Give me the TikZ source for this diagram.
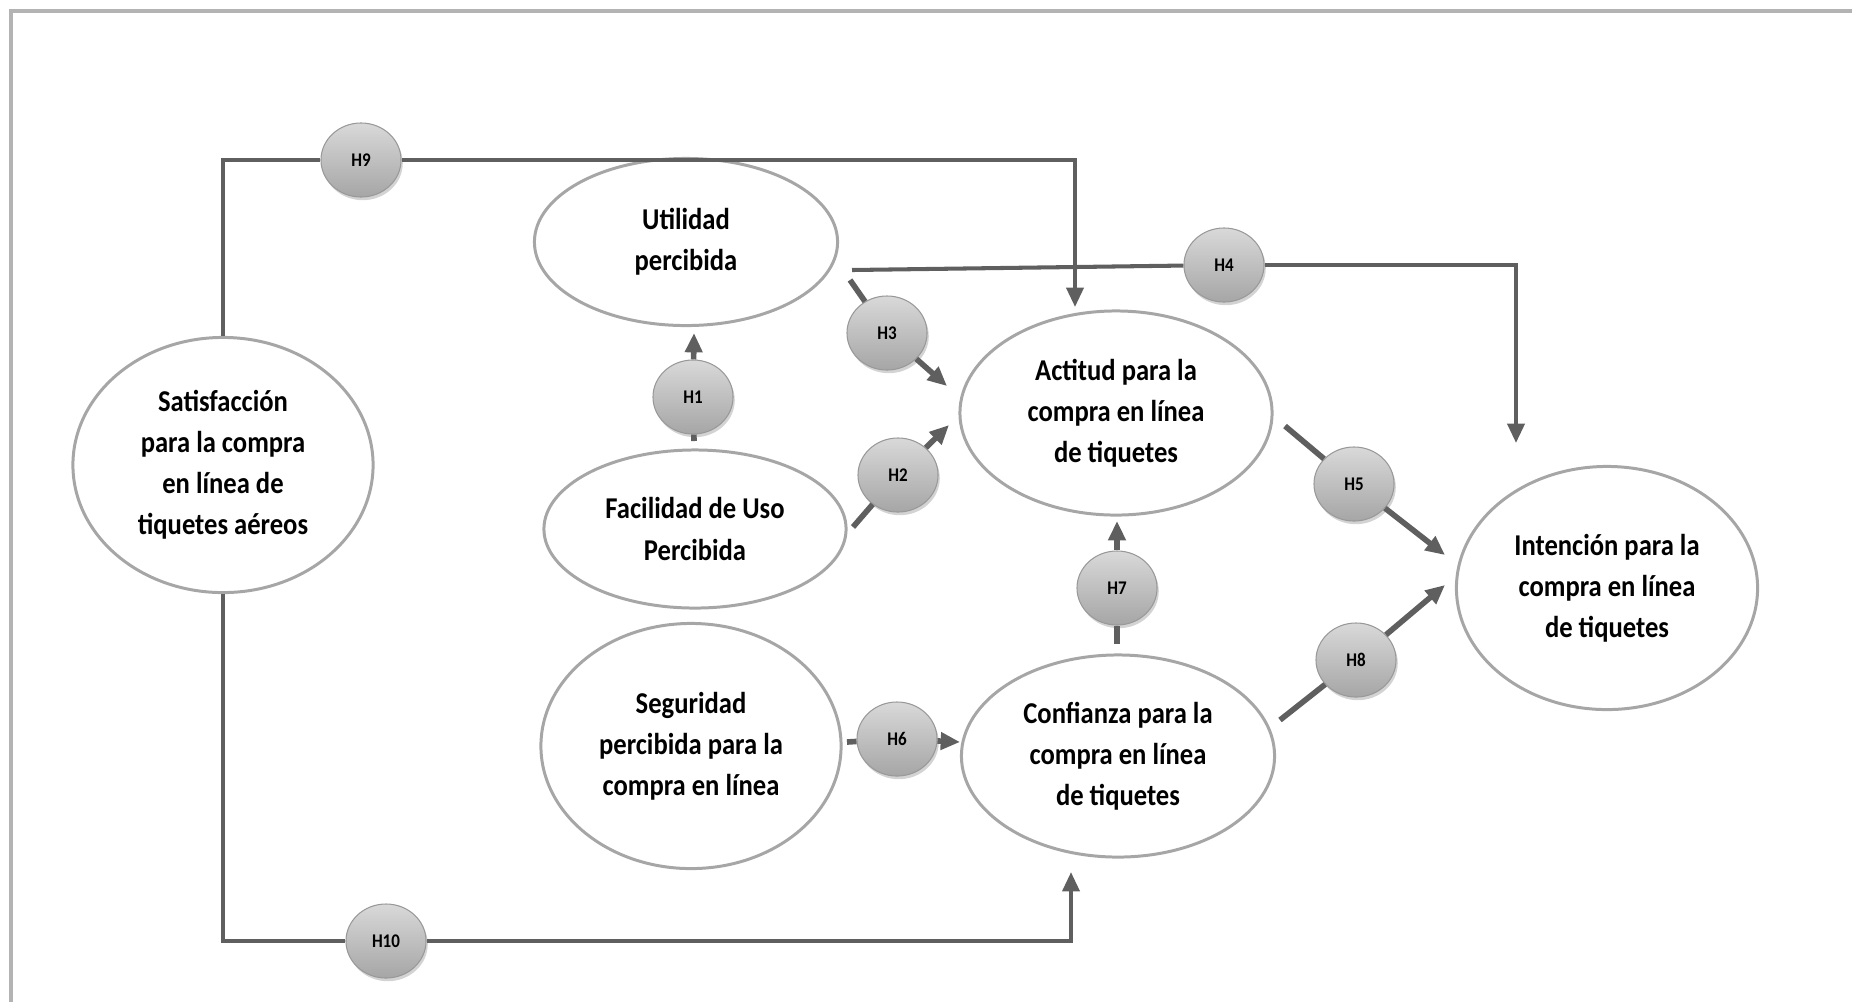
\documentclass[tikz,border=0pt]{standalone}
\usepackage{fontspec}
\setmainfont{Carlito}[FakeStretch=0.88]
\usetikzlibrary{shapes.geometric,arrows.meta,shadows}
\definecolor{linegray}{HTML}{5F5F5F}
\definecolor{rimgray}{HTML}{A6A6A6}
\definecolor{framegray}{HTML}{B3B3B3}

\begin{document}
\begin{tikzpicture}[x=0.01cm,y=-0.01cm,
  construct/.style={ellipse,draw=rimgray,line width=0.85pt,fill=white,inner sep=0pt,align=center,
    font=\fontsize{8.6}{11.7}\selectfont\bfseries},
  hyp/.style={ellipse,minimum width=0.8cm,minimum height=0.74cm,inner sep=0pt,draw=gray!80,line width=0.3pt,
    top color=gray!30,bottom color=gray!70,
    drop shadow={opacity=0.35,shadow xshift=0.5pt,shadow yshift=-0.9pt},
    font=\fontsize{5.5}{6}\selectfont\bfseries},
  link/.style={draw=linegray,line width=1.15pt},
  arr/.style={link,-{Triangle[length=5.5pt,width=4.8pt]}},
  link2/.style={draw=linegray,line width=1.6pt},
  arr2/.style={link2,-{Triangle[length=5.5pt,width=4.8pt]}}]
\useasboundingbox (0,0) rectangle (1852,1002);
\draw[framegray,line width=0.04cm] (11,1002) -- (11,11) -- (1852,11);

\node[construct,minimum width=3cm,minimum height=2.55cm] (sat) at (223,465) {Satisfacción\\para la compra\\en línea de\\tiquetes aéreos};
\node[construct,minimum width=3.03cm,minimum height=1.67cm] (util) at (686,242) {Utilidad\\percibida};
\node[construct,minimum width=3.02cm,minimum height=1.58cm] (faci) at (695,529) {Facilidad de Uso\\Percibida};
\node[construct,minimum width=3cm,minimum height=2.45cm] (segu) at (691,746) {Seguridad\\percibida para la\\compra en línea};
\node[construct,minimum width=3.12cm,minimum height=2.04cm] (acti) at (1116,413) {Actitud para la\\compra en línea\\de tiquetes};
\node[construct,minimum width=3.13cm,minimum height=2.02cm] (conf) at (1118,756) {Confianza para la\\compra en línea\\de tiquetes};
\node[construct,minimum width=3.01cm,minimum height=2.43cm] (inte) at (1607,588) {Intención para la\\compra en línea\\de tiquetes};

\coordinate (s1) at (694,441);
\coordinate (t1) at (694,333);
\coordinate (s2) at (853,527);
\coordinate (t2) at (949,425);
\coordinate (s3) at (850,280);
\coordinate (t3) at (947,386);
\coordinate (s4) at (852,270);
\coordinate (t4) at (1516,443);
\coordinate (s5) at (1285,426);
\coordinate (t5) at (1445,555);
\coordinate (s6) at (847,742);
\coordinate (t6) at (960,742);
\coordinate (s7) at (1117,644);
\coordinate (t7) at (1117,521);
\coordinate (s8) at (1280,720);
\coordinate (t8) at (1445,585);
\coordinate (t9) at (1075,307);
\coordinate (t10) at (1071,872);

\node[hyp] (h9) at (361,160) {H9};
\node[hyp] (h4) at (1224,265) {H4};
\node[hyp] (h3) at (887,333) {H3};
\node[hyp] (h1) at (693,397) {H1};
\node[hyp] (h2) at (898,475) {H2};
\node[hyp] (h5) at (1354,484) {H5};
\node[hyp] (h7) at (1117,588) {H7};
\node[hyp] (h8) at (1356,660) {H8};
\node[hyp] (h6) at (897,739) {H6};
\node[hyp] (h10) at (386,941) {H10};

\draw[link] (sat.north) |- (h9);
\draw[arr] (h9) -| (t9);
\draw[link] (sat.south) |- (h10);
\draw[arr] (h10) -| (t10);
\draw[link] (s4) -- (h4);
\draw[arr] (h4) -| (t4);
\draw[link2] (s1) -- (h1);
\draw[arr2] (h1) -- (t1);
\draw[link2] (s2) -- (h2);
\draw[arr2] (h2) -- (t2);
\draw[link2] (s3) -- (h3);
\draw[arr2] (h3) -- (t3);
\draw[link2] (s5) -- (h5);
\draw[arr2] (h5) -- (t5);
\draw[link2] (s6) -- (h6);
\draw[arr2] (h6) -- (t6);
\draw[link2] (s7) -- (h7);
\draw[arr2] (h7) -- (t7);
\draw[link2] (s8) -- (h8);
\draw[arr2] (h8) -- (t8);
\end{tikzpicture}
\end{document}
